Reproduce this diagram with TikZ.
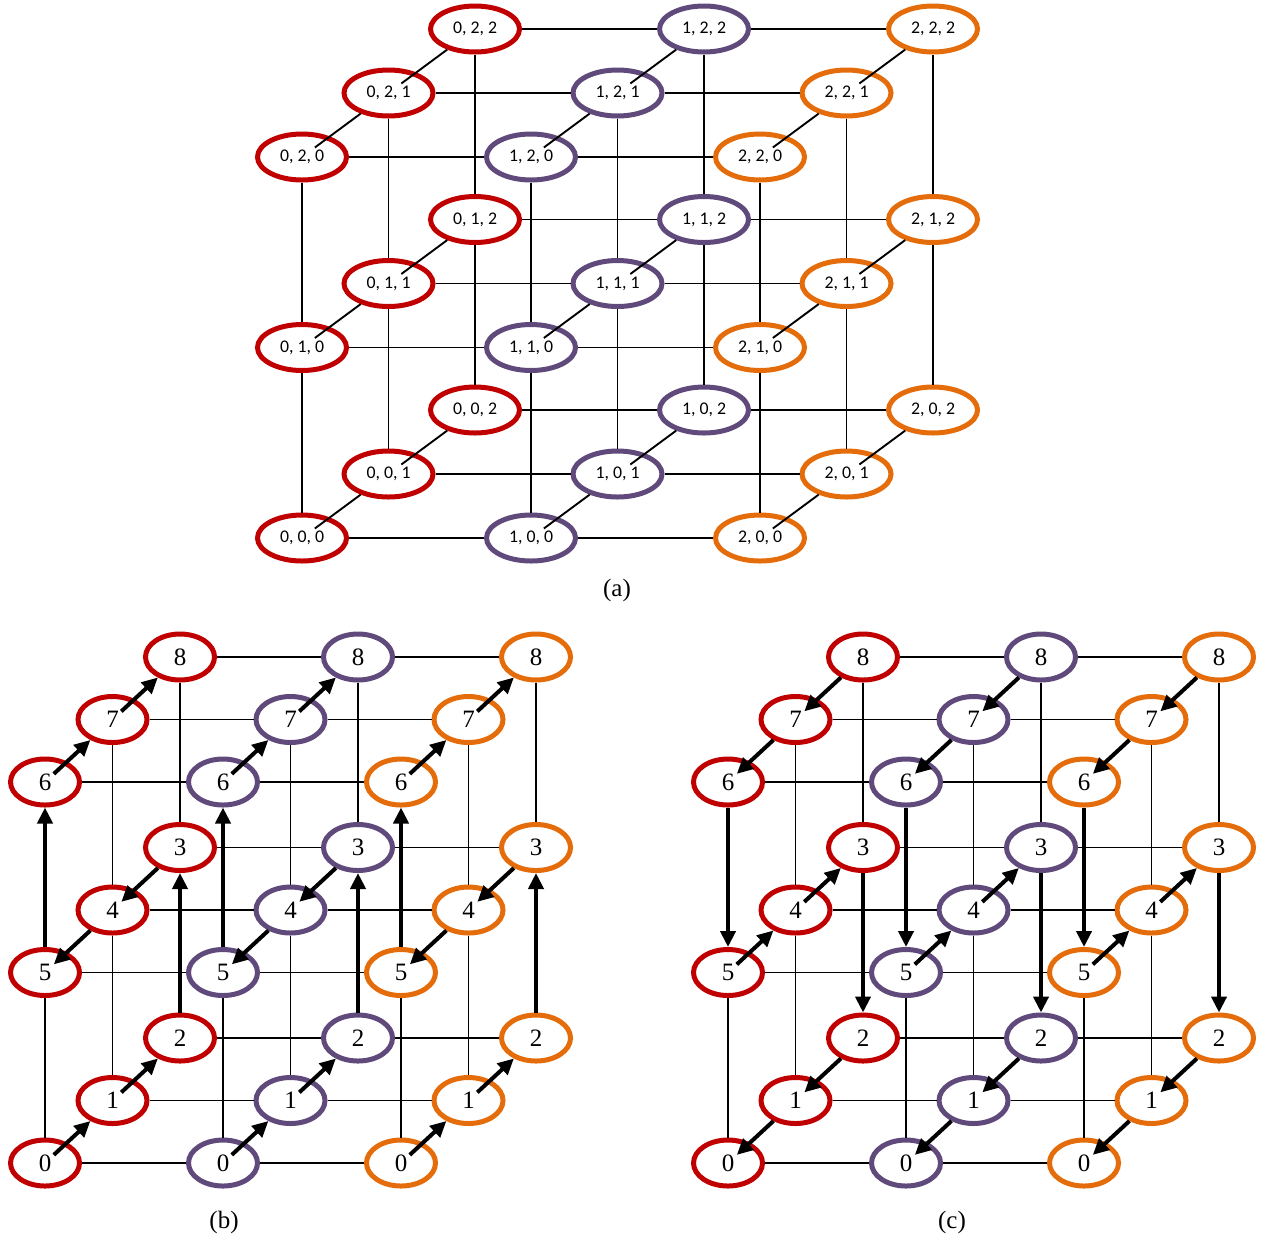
\documentclass[tikz,border=0pt]{standalone}
\usepackage{fontspec}
\setmainfont{Liberation Serif}
\newfontfamily\tuplefont{Carlito}
\usepackage{tikz}
\usetikzlibrary{
  arrows.meta,       % Triangle tips on the walk
  shapes.geometric   % ellipse nodes
}

\definecolor{colred}{RGB}{192,0,0}
\definecolor{colpurple}{RGB}{96,74,123}
\definecolor{colorange}{RGB}{228,108,10}

\begin{document}
\begin{tikzpicture}[x=0.5pt, y=-0.5pt,
    tuple/.style={ellipse, draw, line width=2.5pt, minimum width=44.5pt,
      minimum height=23pt, inner sep=0pt, font=\tuplefont\fontsize{8.9}{10}\selectfont},
    num/.style={ellipse, draw, line width=2.5pt, minimum width=34.5pt,
      minimum height=23pt, inner sep=0pt, font=\fontsize{12.5}{14}\selectfont},
    gridline/.style={line width=0.95pt},
    walk/.style={line width=2pt},
    >={Triangle[length=8pt,width=7.5pt]},
    caption/.style={font=\fontsize{12.5}{14}\selectfont}
  ]
  \useasboundingbox (0,0) rectangle (1261,1243);

  % (a): the 3x3x3 grid of triples
  \foreach \i/\col in {0/colred,1/colpurple,2/colorange} {
    \foreach \j in {0,1,2} {
      \foreach \k in {0,1,2} {
        \node[tuple, draw=\col] (a-\i\j\k)
          at ({302+229*\i+86.5*\k},{538-190.5*\j-64*\k}) {\i, \j, \k};
      }
    }
  }

  % grid lines in all three directions
  \foreach \i in {0,1,2} {
    \foreach \j in {0,1,2} {
      \foreach \k/\m in {0/1,1/2} {
        \draw[gridline, shorten <=8pt] (a-\i\j\k.center) -- (a-\i\j\m);
        \draw[gridline] (a-\i\k\j) -- (a-\i\m\j);
        \draw[gridline] (a-\k\i\j) -- (a-\m\i\j);
      }
    }
  }

  % (b) and (c): same grid, numbered along the walk
  \foreach \p/\dx in {b/0,c/683} {
    \foreach \i/\col in {0/colred,1/colpurple,2/colorange} {
      \foreach \n/\j/\k in {0/0/0,1/0/1,2/0/2,3/1/2,4/1/1,5/1/0,6/2/0,7/2/1,8/2/2} {
        \node[num, draw=\col] (\p-\i-\n)
          at ({45+\dx+178*\i+67.5*\k},{1163-190.5*\j-62.5*\k}) {\n};
      }
    }
  }

  % plain lines
  \foreach \p in {b,c} {
    \foreach \n in {0,...,8} {
      \draw[gridline] (\p-0-\n) -- (\p-1-\n);
      \draw[gridline] (\p-1-\n) -- (\p-2-\n);
    }
    \foreach \i in {0,1,2} {
      \foreach \u/\v in {0/5,1/4,4/7,3/8}
        \draw[gridline] (\p-\i-\u) -- (\p-\i-\v);
    }
  }

  % walk upwards in (b)
  \foreach \i in {0,1,2} {
    \foreach \u/\v in {0/1,1/2,6/7,7/8}
      \draw[walk, ->, shorten <=6pt] (b-\i-\u.center) -- (b-\i-\v);
    \foreach \u/\v in {4/3,5/4}
      \draw[walk, <-, shorten <=6pt] (b-\i-\u.center) -- (b-\i-\v);
    \foreach \u/\v in {2/3,5/6}
      \draw[walk, ->] (b-\i-\u) -- (b-\i-\v);
  }

  % walk downwards in (c)
  \foreach \i in {0,1,2} {
    \foreach \u/\v in {0/1,1/2,6/7,7/8}
      \draw[walk, <-, shorten <=6pt] (c-\i-\u.center) -- (c-\i-\v);
    \foreach \u/\v in {4/3,5/4}
      \draw[walk, ->, shorten <=6pt] (c-\i-\u.center) -- (c-\i-\v);
    \foreach \u/\v in {3/2,6/5}
      \draw[walk, ->] (c-\i-\u) -- (c-\i-\v);
  }

  % captions
  \node[caption] (capa) at (617,590) {(a)};
  \node[caption] (capb) at (224,1222) {(b)};
  \node[caption] (capc) at (952,1222) {(c)};
\end{tikzpicture}
\end{document}
